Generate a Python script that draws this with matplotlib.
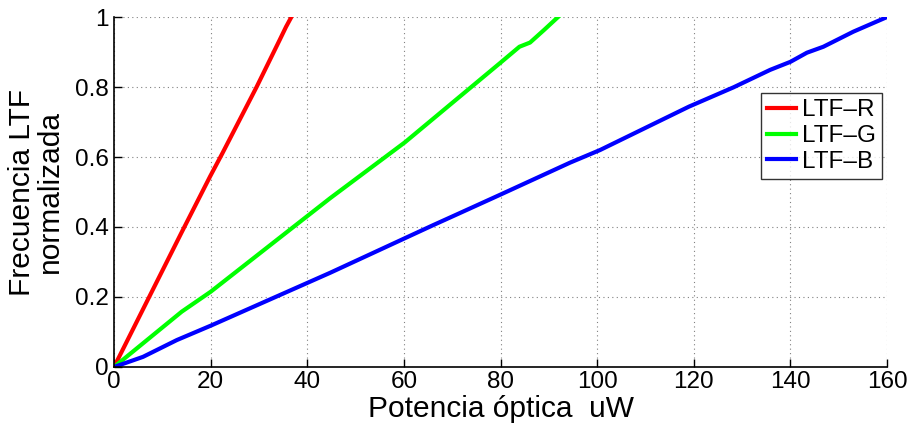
import matplotlib
matplotlib.use("Agg")
import matplotlib.pyplot as plt

plt.rcParams['font.family'] = ['Liberation Sans', 'DejaVu Sans']

# LTF frequency (normalized) vs optical power, per colour channel
red_x = [0, 7.45, 14, 19.9, 22.4, 29.5, 34.3, 35.6, 36.7]
red_y = [0, 0.205, 0.385, 0.545, 0.61, 0.80, 0.935, 0.972, 1.0]

green_x = [0, 14, 20, 44.7, 60.2, 80.2, 83.9, 86.1, 89, 91.9]
green_y = [0, 0.158, 0.215, 0.482, 0.642, 0.872, 0.915, 0.927, 0.963, 1.0]

blue_x = [0, 6, 13, 20, 44.7, 60.2, 66, 71.6, 80.2, 94.4, 100.6, 119, 128.2,
          135.8, 140, 143.4, 146.8, 153, 160]
blue_y = [0, 0.029, 0.077, 0.118, 0.269, 0.368, 0.405, 0.44, 0.494, 0.584, 0.62,
          0.744, 0.799, 0.849, 0.872, 0.898, 0.915, 0.958, 1.0]

x_ticks = [0, 20, 40, 60, 80, 100, 120, 140, 160]
y_ticks = [0, 0.2, 0.4, 0.6, 0.8, 1]
y_tick_labels = ['0', '0.2', '0.4', '0.6', '0.8', '1']

fig = plt.figure(figsize=(9.08, 4.23), dpi=100)
ax = fig.add_axes([0.1256, 0.1324, 0.8514, 0.8274])

ax.plot(red_x, red_y, color='#ff0000', lw=3, label='LTF–R')
ax.plot(green_x, green_y, color='#00ff00', lw=3, label='LTF–G')
ax.plot(blue_x, blue_y, color='#0000ff', lw=3, label='LTF–B')

ax.set_xlim(0, 160)
ax.set_ylim(0, 1)
ax.set_xticks(x_ticks)
ax.set_yticks(y_ticks)
ax.set_yticklabels(y_tick_labels)
ax.tick_params(direction='in', length=6, width=1, labelsize=17.5)
ax.tick_params(axis='x', pad=3)
ax.tick_params(axis='y', pad=4)

ax.grid(True, linestyle=(0, (1, 3)), color='#808080', linewidth=0.8)
ax.spines['top'].set_visible(False)
ax.spines['right'].set_visible(False)
ax.spines['left'].set_linewidth(1.2)
ax.spines['bottom'].set_linewidth(1.2)

ax.set_xlabel('Potencia óptica  uW', fontsize=21.5, labelpad=1)
ax.set_ylabel('Frecuencia LTF\nnormalizada', fontsize=21.5, labelpad=8, linespacing=1.0)

leg = ax.legend(loc='upper right', bbox_to_anchor=(0.994, 0.782), fontsize=17.5,
                frameon=True, fancybox=False, edgecolor='black',
                handlelength=1.2, handletextpad=0.25, borderpad=0.25,
                labelspacing=0.15, borderaxespad=0)
leg.get_frame().set_linewidth(1.0)

fig.savefig('out.png', dpi=100)
